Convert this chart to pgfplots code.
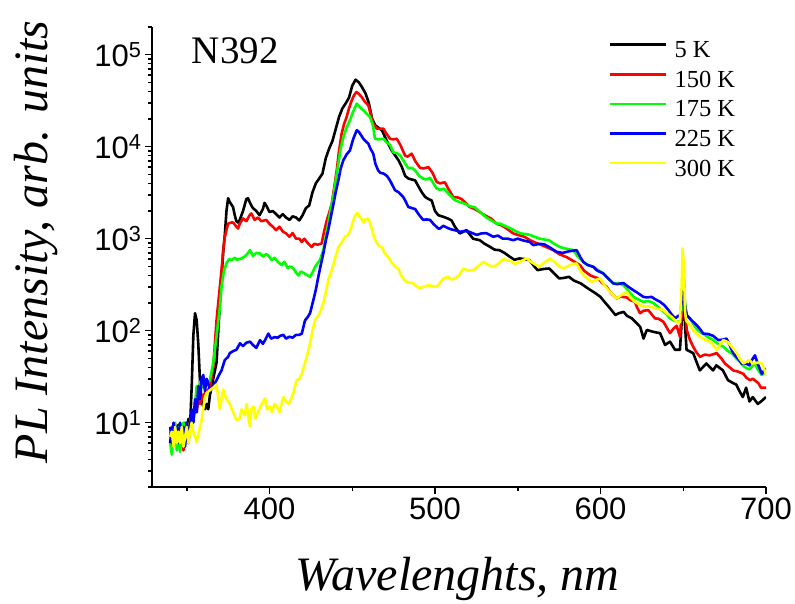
\documentclass[border=0pt]{standalone}
\usepackage{fontspec}
\setmainfont{Liberation Serif}
\newfontfamily\arial{Liberation Sans}
\usepackage{pgfplots}
\pgfplotsset{compat=1.18}
\definecolor{cred}{RGB}{255,0,0}
\definecolor{cgreen}{RGB}{0,255,0}
\definecolor{cblue}{RGB}{0,0,255}
\definecolor{cyellow}{RGB}{255,255,0}

\begin{document}
\begin{tikzpicture}
\path[use as bounding box] (-152pt,-116pt) rectangle (643pt,487pt);
\begin{axis}[
  scale only axis, width=614pt, height=460pt,
  xmin=329, xmax=700, ymin=2, ymax=2e5, ymode=log,
  axis lines=left, axis line style={-, line width=1.8pt},
  tick align=outside, major tick length=7pt, minor tick length=4pt,
  tick style={line width=1.5pt, black},
  xtick={400,500,600,700}, minor xtick={350,450,550,650},
  ytick={10,100,1000,10000,100000},
  minor ytick={2,3,4,5,6,7,8,9,20,30,40,50,60,70,80,90,200,300,400,500,600,700,800,900,2000,3000,4000,5000,6000,7000,8000,9000,20000,30000,40000,50000,60000,70000,80000,90000,200000},
  yticklabels={10\textsuperscript{1},10\textsuperscript{2},10\textsuperscript{3},10\textsuperscript{4},10\textsuperscript{5}},
  /pgf/number format/assume math mode=true,
  xticklabel style={font={\fontsize{31}{36}\arial}},
  yticklabel style={font={\fontsize{31}{36}\arial}},
  xlabel={Wavelenghts, nm},
  ylabel={PL Intensity, arb. units},
  xlabel style={font={\fontsize{48}{56}\selectfont\itshape}, at={(axis description cs:0.4976,-0.226)}, anchor=base},
  ylabel style={font={\fontsize{48}{56}\selectfont\itshape}, at={(axis description cs:-0.171,0.533)}, anchor=base},
  legend style={draw=none, fill=none, at={(axis description cs:0.7427,0.969)}, anchor=north west,
    font={\fontsize{24.5}{29}\selectfont}, inner sep=0pt, column sep=7.7pt, row sep=11.9pt,
    nodes={inner sep=0pt}},
  legend cell align=left,
  legend image code/.code={\draw[#1] (0pt,5.5pt) -- (56pt,5.5pt);},
  every axis plot/.append style={line width=2.6pt, line join=round},
]
\addplot[black] coordinates {
(340,6) (341,9) (342,5.5) (343,8.5) (344,6) (345,9.5) (346,5.5) (347,9) (348,6.5) (349,10) (350,8) (351,11) (352,9) (353,25) (354,90) (355,155) (356,130) (357,70) (358,28) (359,17) (360,15) (361,14) (362,16) (363,14) (364,20) (366,30) (368,45) (370,200) (372,700) (373,1100) (374,2000) (375,2750) (376,2500) (377,2350) (378,2200) (379,1800) (380,1550) (381,1500) (382,1600) (384,2000) (386,2700) (387,2750) (388,2500) (389,2300) (390,2150) (392,2000) (394,1800) (396,2100) (397,2450) (398,2300) (400,1950) (402,2000) (404,1850) (406,1700) (408,1850) (410,1700) (412,1600) (414,1750) (416,1700) (418,1580) (420,1800) (422,2150) (424,2300) (426,3200) (428,4000) (430,4500) (432,5100) (434,7500) (436,9500) (438,11500) (440,15500) (442,21000) (444,26000) (446,29500) (448,34000) (450,46000) (452,53500) (454,50000) (456,44000) (458,38000) (460,30000) (462,20000) (464,17000) (466,16000) (468,15000) (470,12500) (472,10500) (474,9000) (476,8000) (478,7100) (480,6000) (482,4800) (484,4500) (486,4400) (488,4300) (490,3700) (492,3200) (494,2850) (496,2700) (498,2600) (500,2000) (502,1800) (505,1730) (508,1650) (510,1580) (512,1350) (515,1140) (519,1240) (523,1000) (527,964) (530,880) (533,820) (536,760) (539,750) (542,700) (545,640) (548,590) (551,610) (554,600) (557,585) (560,500) (562,455) (566,470) (569,474) (572,420) (575,370) (578,375) (581,385) (584,350) (588,327) (591,300) (594,276) (597,255) (600,233) (602,210) (605,182) (609,148) (611,155) (614,160) (616,145) (619,136) (622,120) (624,110) (626,82) (628,102) (632,97) (636,94) (639,70) (642,76) (645,62) (648,62) (649,120) (650,300) (651,120) (652,62) (656,57) (660,37) (664,44) (668,37) (670,42) (674,37) (677,29) (680,27) (682,26) (684,22) (686,19) (688,24) (690,17) (692,19) (695,16) (697,17) (700,19)
};
\addlegendentry{5 K}
\addplot[cred] coordinates {
(340,7) (341,9) (342,6) (343,9.5) (344,6) (345,8) (346,5.5) (347,9) (348,5) (349,9) (350,10) (351,7) (352,10) (353,12) (354,11) (355,14) (356,13) (357,18) (358,16) (360,20) (362,22) (364,24) (366,40) (368,130) (370,300) (371,455) (372,750) (373,1050) (375,1460) (377,1500) (378,1500) (380,1350) (381,1290) (382,1450) (384,1660) (386,1550) (388,1800) (389,1880) (391,1600) (393,1700) (395,1550) (398,1600) (400,1450) (402,1350) (404,1240) (406,1350) (408,1200) (410,1140) (412,1050) (414,1150) (416,1000) (418,1000) (419.5,920) (421,1000) (423,900) (425.5,810) (427,880) (429,860) (431.5,887) (433,1200) (434.6,1580) (436,1900) (437.6,2400) (439,3500) (440.6,5500) (442,9000) (443.6,13900) (445,17500) (446.6,21000) (448,26000) (449.7,31900) (451,36000) (452.5,39300) (454,37500) (455.7,34600) (457.5,31000) (459.7,28200) (461,23000) (462.7,17800) (464.8,15700) (466,15700) (468.8,15700) (470.5,14000) (472.8,12200) (474.5,12000) (476.9,12200) (479,10500) (481.9,8000) (483.5,7800) (485.9,8400) (488,7000) (490.9,5900) (493,5800) (496,6000) (498.5,5200) (501,4140) (503,4000) (506,4100) (508,3500) (511,2840) (514,2800) (516,2700) (518,2500) (521,2210) (524,2100) (527,1950) (530,1800) (534,1650) (537.3,1450) (540,1400) (543,1300) (547.3,1140) (550,1100) (554,1050) (557.4,964) (561,900) (564.5,850) (568,800) (571.5,750) (575,680) (579.6,630) (583,580) (587.6,515) (590,450) (593.7,400) (596,385) (598.7,370) (601,330) (603.7,300) (606,260) (609.8,224) (612,235) (615.8,230) (618,215) (620.8,206) (622,180) (623.9,155) (626,165) (628.9,167) (631,150) (632.9,136) (635,135) (638,125) (642,94) (644,105) (646,113) (648,86) (649,150) (650,420) (651,180) (652.1,102) (654,80) (656,67) (658,58) (660.1,52) (663,55) (666,54) (670.2,57) (673,50) (675.2,44) (678,40) (680.2,37) (683,36) (686.3,34) (688,31) (690.3,29) (692,30) (695.3,27) (697,24) (700,24)
};
\addlegendentry{150 K}
\addplot[cgreen] coordinates {
(340,6) (341,4.5) (342,8) (343,10) (344,5) (345,9) (346,4.8) (347,8) (348,10) (349,6) (350,9) (351,7) (352,10) (353,12) (354,10) (355,16) (356,25) (357,22) (358,28) (360,24) (362,26) (364,29) (366,45) (368,86) (370,180) (371,300) (372.5,450) (374,540) (375.5,600) (377,585) (379,620) (380.5,590) (383,610) (385,640) (386.5,680) (388.2,750) (390,650) (392,700) (394.3,690) (396,640) (398,680) (399.5,650) (401.3,585) (403,620) (405,560) (407.4,515) (409,560) (411,480) (412.7,500) (414.4,475) (416,430) (417.4,400) (419,440) (421,420) (424.5,385) (426,430) (427.5,494) (429,540) (430.5,585) (432.5,750) (434,1050) (435.5,1460) (437,2100) (438.5,2840) (440,4300) (441.6,6560) (443,9500) (444.6,12700) (446.5,16000) (448.6,19400) (450.5,24000) (452.7,29400) (454.5,27000) (456.7,24800) (458.5,23000) (460.7,21000) (462.5,17000) (463.7,12200) (466,12000) (468.8,12200) (471,11000) (472.8,10500) (474.8,8700) (477,8500) (479,8000) (481,7000) (483.9,5800) (486,5900) (488,5500) (490.5,4800) (492.9,4500) (495,4400) (497,4600) (499,4000) (501,3500) (503,3400) (505.5,3500) (508,3100) (512,2620) (515,2500) (518.1,2400) (521,2250) (524,2200) (528.2,1880) (531,1700) (534,1580) (537.3,1460) (539.3,1460) (542,1380) (545.5,1300) (549.4,1190) (552,1140) (555,1120) (557.4,1100) (560,1050) (563.4,1000) (566,980) (569,960) (572,880) (575.5,810) (579,780) (583.6,750) (586,650) (589.6,560) (592,520) (595.7,494) (599,450) (601.7,419) (604,380) (607.7,327) (611,330) (614,310) (617,270) (619.8,233) (622.5,220) (625.9,206) (629,210) (632,200) (634,185) (637,168) (640,150) (642,136) (644,130) (646,125) (648,125) (649,180) (650,480) (651,200) (652.1,148) (654,135) (656,120) (658,105) (660.1,97) (663,90) (665,85) (668.2,79) (671,72) (674.2,67) (677,60) (679.3,57) (682,50) (684.3,46) (686,42) (688.3,39) (690,38) (693.3,44) (695,38) (697.4,33) (700,35)
};
\addlegendentry{175 K}
\addplot[cblue] coordinates {
(340,9) (341,6) (342,10) (343,7) (344,9) (345,6) (346,10) (347,7) (348,9) (349,5.5) (350,10) (351,6) (352,9) (353,14) (354,10) (355,18) (356,13) (357,25) (358,18) (359,30) (360,33) (361,22) (362,30) (363,27) (364,22) (366,25) (368,29) (369.5,33) (371,37) (373,48) (375,52) (376,57) (378,60) (380,62) (382.2,73) (384,68) (386,74) (388.2,76) (390,70) (392,65) (394.3,79) (396,72) (397.5,80) (399.3,93) (401,82) (403,85) (405,84) (406.5,88) (408.4,90) (410,82) (412,86) (414,84) (416,90) (418,90) (419.5,93) (421.5,130) (423,140) (424.5,155) (426.5,215) (428,280) (429.5,385) (431,520) (432.5,690) (434,950) (435.5,1240) (437,1700) (438.5,2310) (440,3200) (441.6,4300) (443,5800) (444.6,7100) (446.5,8200) (448.6,9100) (450.5,12000) (452.7,15100) (454,14500) (456.7,12200) (458,11500) (459.7,10800) (461,9500) (462.7,8400) (464,6500) (465.7,5500) (467,5200) (469,5100) (471,4800) (472.8,4300) (475.8,3370) (478,3200) (480.8,2840) (482,2600) (483.9,2210) (486,2150) (488,2100) (490.5,1800) (492.9,1600) (495,1620) (497,1600) (499,1450) (502,1290) (503,1290) (505,1380) (508,1300) (510,1260) (512.5,1230) (515.1,1190) (518,1210) (520,1200) (522,1160) (525.2,1100) (528,1140) (531,1150) (535.2,1050) (538,1080) (541,1000) (544,1000) (547.3,964) (550,1000) (553,960) (557.4,920) (559.4,850) (563,880) (566,870) (569.5,800) (573.5,720) (577,700) (581,730) (585.6,750) (588,620) (589.6,560) (592,520) (595.7,494) (598,450) (601.7,419) (604,380) (607.7,327) (610,320) (613.8,330) (616.8,300) (619.8,276) (622.8,255) (625.9,233) (628,230) (630.9,233) (633,220) (636,206) (638.5,190) (641,168) (643,150) (645.1,136) (647,145) (648,145) (649,200) (650,450) (651,190) (652.1,148) (655,130) (658.1,115) (660,105) (662.1,93) (665,92) (668,88) (671.2,79) (674,80) (676.2,82) (678,70) (680.2,57) (683,50) (685.3,44) (688,44) (690,42) (691.5,48) (693.3,54) (695,44) (697.4,34) (700,39)
};
\addlegendentry{225 K}
\addplot[cyellow] coordinates {
(340,7) (341,8) (342,5.5) (343,9) (344,6) (345,8) (346,6) (347,9) (348,5.5) (349,7) (350,9) (351,6) (352,8) (353,10) (354,8) (355,7) (356,6.2) (357,7.5) (359,10.7) (361,19) (362,21) (364,22.6) (366,24) (368,26) (370,14) (372,23) (374,18) (376,16) (378,13) (380,10.7) (382,11) (383,14) (385,12) (386.2,16) (387,12) (388.2,9.1) (389,14) (390.3,15) (391.5,11) (393,13) (395.3,16) (397.3,18.4) (398.5,14) (400,15) (401.5,13) (403,16) (404.5,15) (406,13) (408.4,19) (410,17) (411.4,16) (413,18) (414.4,21) (416.4,29) (418,30) (419.5,34) (421,42) (422.5,52) (424.5,73) (426,100) (427.5,130) (430,150) (432.5,198) (434,260) (435.5,355) (437.6,455) (439.5,600) (441.6,810) (443.5,900) (445.6,1050) (447.5,1100) (449,1250) (450.6,1580) (452,1800) (453.1,1900) (455,1700) (456.7,1510) (458,1620) (459.7,1660) (460.7,1500) (461.7,1290) (463.5,1000) (465.7,850) (468,800) (469.5,700) (471.8,630) (473.5,560) (475.8,494) (477.8,474) (479.5,400) (481.9,345) (484,335) (486.9,327) (489,300) (490.9,290) (493,300) (496,313) (498.5,305) (501,300) (503,330) (505,370) (508,385) (510,360) (512,370) (514.5,400) (517.1,474) (520,450) (523.1,455) (526,500) (529.2,560) (532,520) (535.2,494) (538,530) (541.3,600) (544,580) (546,570) (548.3,530) (551,560) (555.4,610) (558,560) (561,520) (563.4,494) (566,550) (569.5,610) (572,560) (575,500) (577.5,474) (580,500) (583,530) (585.6,537) (587.5,460) (589.6,400) (592,370) (594.7,340) (597,355) (599.7,370) (602,320) (604.7,276) (607,250) (609.8,224) (612,240) (615.8,265) (618,230) (620.8,206) (623,195) (625.9,182) (629,185) (632,178) (635,172) (638,168) (640,155) (643,141) (645,130) (647,120) (648,125) (649,300) (649.6,783) (650.4,500) (651.1,160) (651.7,130) (654,115) (656,100) (658,92) (660.1,86) (663,80) (666.2,76) (668,70) (670.2,62) (672,70) (674.2,79) (677,75) (679,68) (682.3,57) (684,50) (686.3,44) (688,46) (690,48) (692,44) (695,45) (697.4,44) (699,38) (700,33)
};
\addlegendentry{300 K}
\node[anchor=base west, inner sep=0pt, font={\fontsize{39}{45}\selectfont}] at (rel axis cs:0.0647,0.921) {N392};
\end{axis}
\end{tikzpicture}
\end{document}
